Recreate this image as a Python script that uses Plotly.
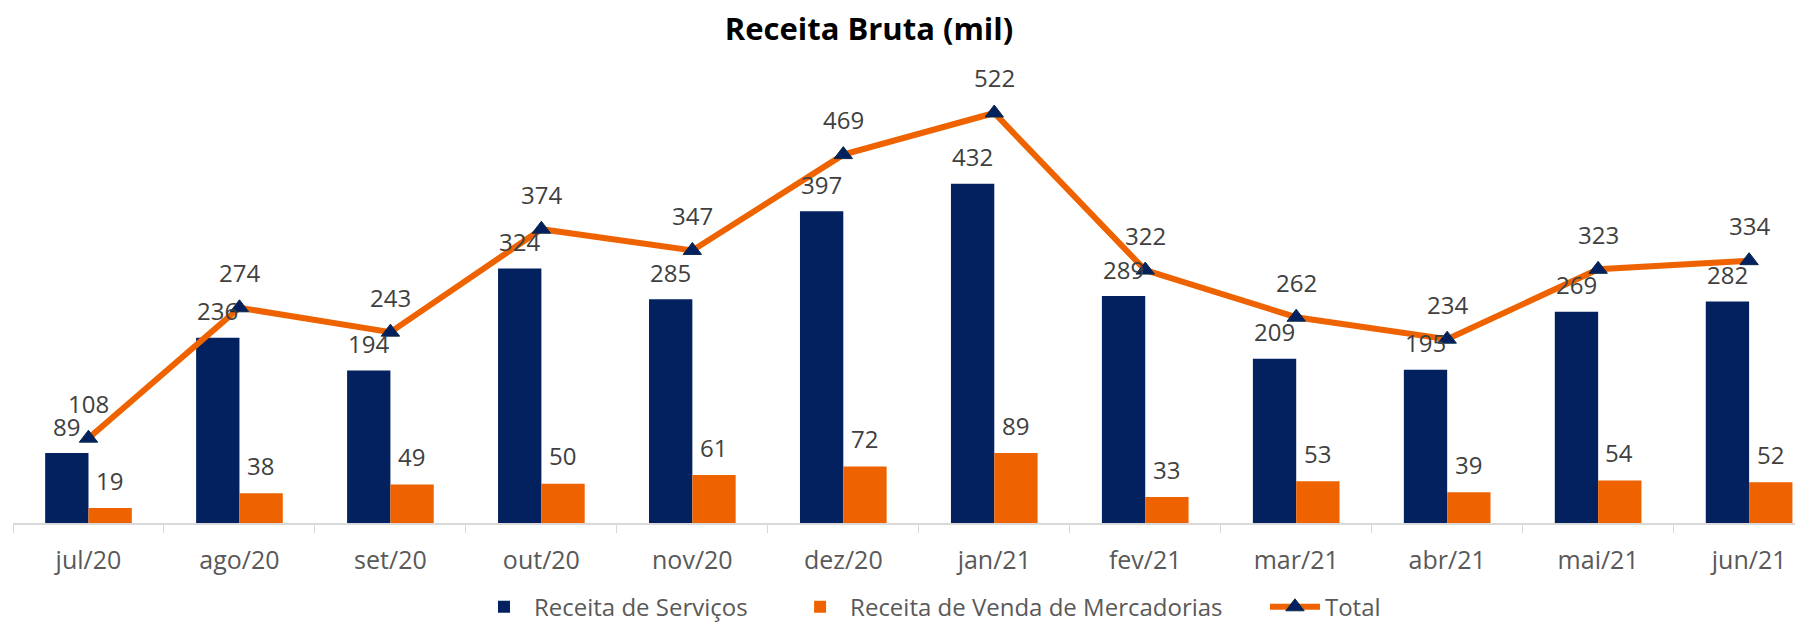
import plotly.graph_objects as go

categories = ["jul/20", "ago/20", "set/20", "out/20", "nov/20", "dez/20",
              "jan/21", "fev/21", "mar/21", "abr/21", "mai/21", "jun/21"]
servicos = [89, 236, 194, 324, 285, 397, 432, 289, 209, 195, 269, 282]
mercadorias = [19, 38, 49, 50, 61, 72, 89, 33, 53, 39, 54, 52]
total = [108, 274, 243, 374, 347, 469, 522, 322, 262, 234, 323, 334]
series_names = ["Receita de Serviços", "Receita de Venda de Mercadorias", "Total"]

NAVY = "#03215E"
ORANGE = "#EE6300"
LABEL = "#404040"
FONT = "Open Sans"
PAD = "\u00a0" * 6

fig = go.Figure()
fig.add_trace(go.Bar(x=categories, y=servicos, name=series_names[0] + PAD,
                     marker=dict(color=NAVY, line=dict(width=0))))
fig.add_trace(go.Bar(x=categories, y=mercadorias, name=series_names[1] + PAD,
                     marker=dict(color=ORANGE, line=dict(width=0))))
fig.add_trace(go.Scatter(x=categories, y=total, name=series_names[2], mode="lines+markers",
                         line=dict(color=ORANGE, width=6),
                         marker=dict(symbol="triangle-up", size=16, color=NAVY,
                                     line=dict(color="#0B2A4A", width=1))))

ann = []
for c, s, m, t in zip(categories, servicos, mercadorias, total):
    ann.append(dict(x=c, y=s, text=str(s), showarrow=False, xshift=-22, yshift=27,
                    yanchor="middle", font=dict(size=24, color=LABEL, family=FONT)))
    ann.append(dict(x=c, y=m, text=str(m), showarrow=False, xshift=21, yshift=28,
                    yanchor="middle", font=dict(size=24, color=LABEL, family=FONT)))
    ann.append(dict(x=c, y=t, text=str(t), showarrow=False, xshift=0, yshift=35,
                    yanchor="middle", font=dict(size=24, color=LABEL, family=FONT)))

fig.update_layout(
    width=1803, height=622,
    margin=dict(l=5, r=0, t=42, b=107),
    paper_bgcolor="white", plot_bgcolor="white",
    barmode="group", bargap=0.426, bargroupgap=0,
    title=dict(text="<b>Receita Bruta (mil)</b>", x=861 / 1803, xanchor="center",
               y=1 - 21 / 622, yanchor="middle",
               font=dict(size=31, color="black", family=FONT)),
    annotations=ann,
    showlegend=True,
    legend=dict(orientation="h", x=0.510, xanchor="center", y=-0.178, yanchor="middle",
                font=dict(size=24, color="#595959", family=FONT),
                itemwidth=50, traceorder="normal"),
    font=dict(family=FONT),
)
fig.update_xaxes(range=[-0.5, 11.41], showline=True, linecolor="#D9D9D9", linewidth=1.5,
                 ticks="outside", tickson="boundaries", ticklen=8, tickcolor="#D9D9D9",
                 tickfont=dict(size=25, color="#595959", family=FONT),
                 ticklabelstandoff=14,
                 showgrid=False)
fig.update_yaxes(range=[0, 602.2], visible=False, showgrid=False, zeroline=False)

fig.write_html("out.html")
